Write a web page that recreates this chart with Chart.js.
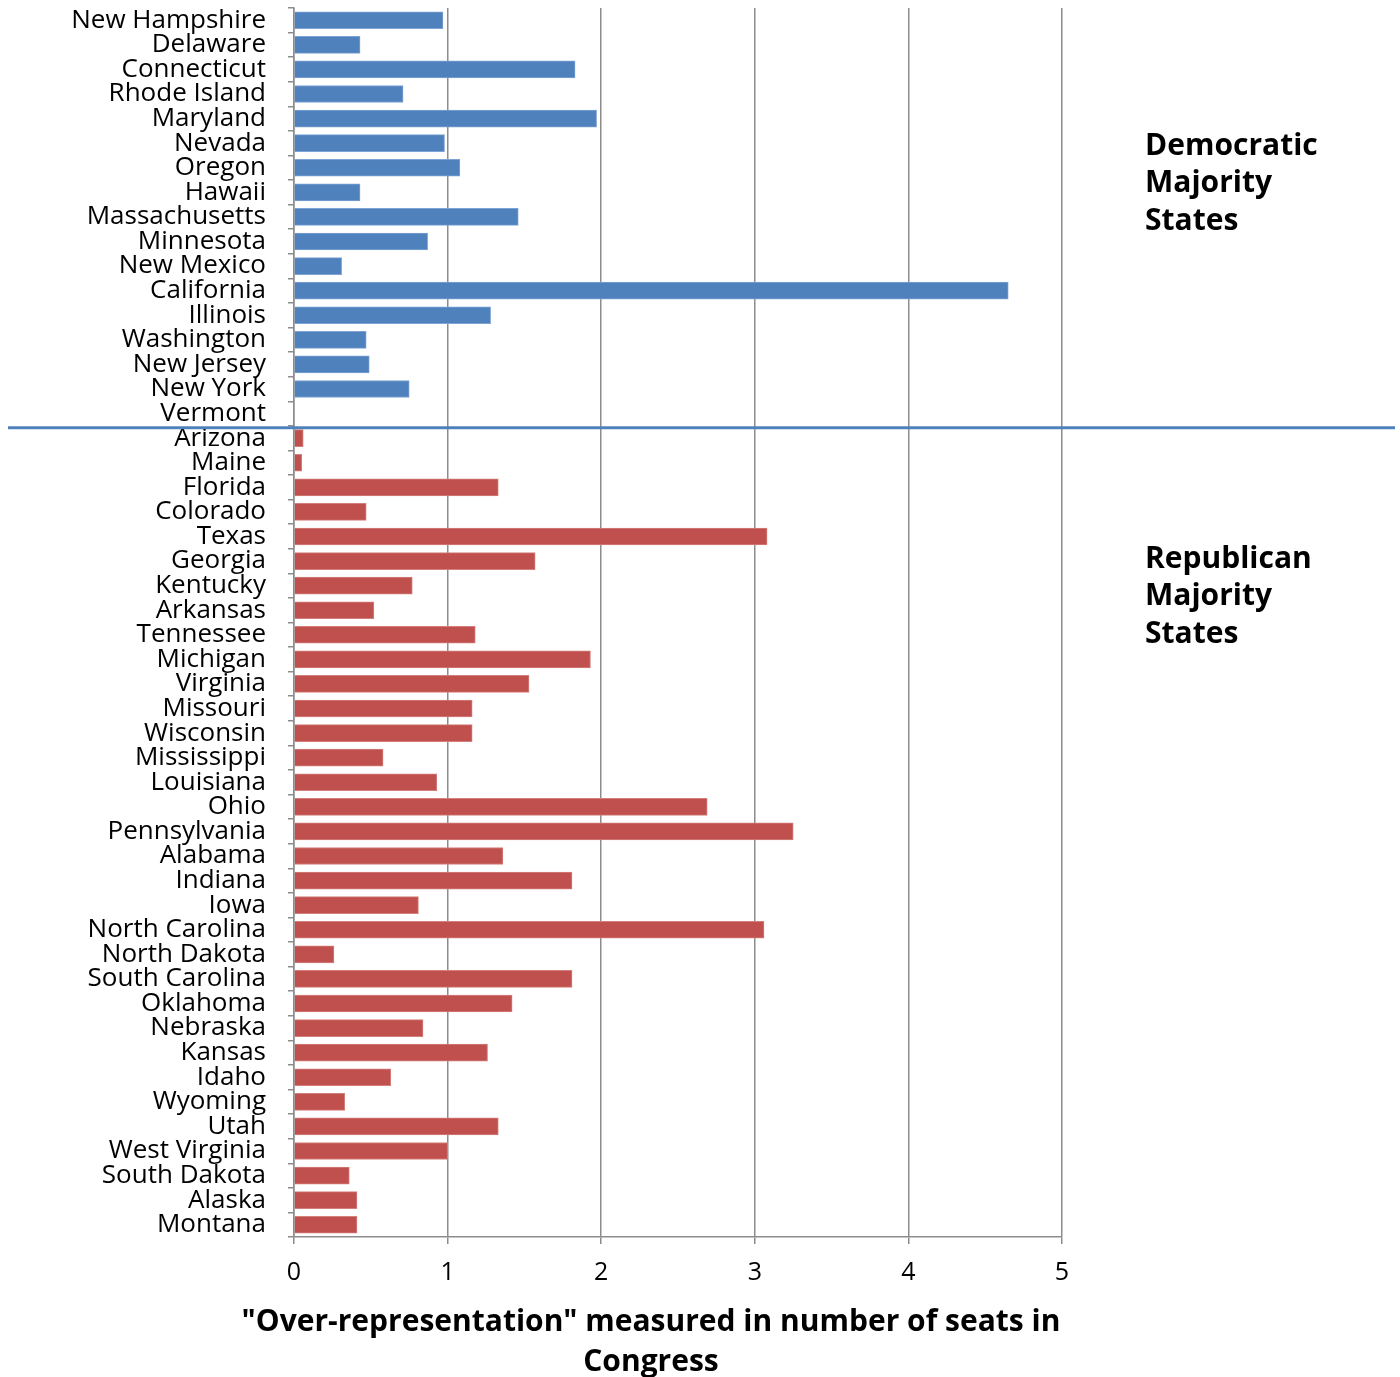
<!DOCTYPE html>
<html>
<head>
<meta charset="utf-8">
<script src="https://cdn.jsdelivr.net/npm/chart.js@4/dist/chart.umd.min.js"></script>
<style>
  html, body { margin: 0; padding: 0; background: #fff; }
  #wrap { width: 1400px; height: 1377px; position: relative; }
</style>
</head>
<body>
<div id="wrap"><canvas id="c" width="1400" height="1377"></canvas></div>
<script>
// States won by each party, top to bottom, with extra House seats per state
const demStates = ['New Hampshire', 'Delaware', 'Connecticut', 'Rhode Island', 'Maryland', 'Nevada',
  'Oregon', 'Hawaii', 'Massachusetts', 'Minnesota', 'New Mexico', 'California', 'Illinois',
  'Washington', 'New Jersey', 'New York', 'Vermont'];
const demValues = [0.97, 0.43, 1.83, 0.71, 1.97, 0.98, 1.08, 0.43, 1.46, 0.87, 0.31, 4.65, 1.28,
  0.47, 0.49, 0.75, 0];

const repStates = ['Arizona', 'Maine', 'Florida', 'Colorado', 'Texas', 'Georgia', 'Kentucky', 'Arkansas',
  'Tennessee', 'Michigan', 'Virginia', 'Missouri', 'Wisconsin', 'Mississippi', 'Louisiana', 'Ohio',
  'Pennsylvania', 'Alabama', 'Indiana', 'Iowa', 'North Carolina', 'North Dakota', 'South Carolina',
  'Oklahoma', 'Nebraska', 'Kansas', 'Idaho', 'Wyoming', 'Utah', 'West Virginia', 'South Dakota',
  'Alaska', 'Montana'];
const repValues = [0.06, 0.05, 1.33, 0.47, 3.08, 1.57, 0.77, 0.52, 1.18, 1.93, 1.53, 1.16, 1.16, 0.58,
  0.93, 2.69, 3.25, 1.36, 1.81, 0.81, 3.06, 0.26, 1.81, 1.42, 0.84, 1.26, 0.63, 0.33, 1.33, 1.0,
  0.36, 0.41, 0.41];

const xTicks = [0, 1, 2, 3, 4, 5];
const groupLabels = [['Democratic', 'Majority', 'States'], ['Republican', 'Majority', 'States']];
const axisTitle = ['"Over-representation" measured in number of seats in', 'Congress'];

const labels = demStates.concat(repStates);
const demData = demValues.concat(repStates.map(() => null));
const repData = demStates.map(() => null).concat(repValues);

const BLUE = '#4F81BD';
const RED = '#C0504D';
const GRID = '#8c8c8c';
const FONT = '"Open Sans", "Noto Sans", sans-serif';

// Divider between the two groups, group captions and the axis title
const overlay = {
  id: 'overlay',
  afterDraw(chart) {
    const ctx = chart.ctx;
    const y = chart.scales.y;
    const split = (y.getPixelForValue(demStates.length - 1) + y.getPixelForValue(demStates.length)) / 2 + 2;
    ctx.save();
    ctx.strokeStyle = BLUE;
    ctx.lineWidth = 3;
    ctx.beginPath();
    ctx.moveTo(8, split);
    ctx.lineTo(1395, split);
    ctx.stroke();

    ctx.fillStyle = '#000';
    ctx.font = 'bold 30px ' + FONT;
    ctx.textAlign = 'left';
    ctx.textBaseline = 'middle';
    const starts = [146, 559];
    groupLabels.forEach((lines, g) => {
      lines.forEach((t, i) => ctx.fillText(t, 1145, starts[g] + i * 37.5));
    });

    ctx.textAlign = 'center';
    axisTitle.forEach((t, i) => ctx.fillText(t, 651, 1322 + i * 40));
    ctx.restore();
  }
};

new Chart(document.getElementById('c'), {
  type: 'bar',
  data: {
    labels: labels,
    datasets: [
      { label: 'Democratic', data: demData, backgroundColor: BLUE, borderColor: '#7da3d4', borderWidth: 1, borderSkipped: 'left' },
      { label: 'Republican', data: repData, backgroundColor: RED, borderColor: '#d47f7c', borderWidth: 1, borderSkipped: 'left' }
    ]
  },
  options: {
    indexAxis: 'y',
    responsive: false,
    animation: false,
    events: [],
    grouped: false,
    barThickness: 17,
    layout: { padding: { left: 0, right: 338, top: 8, bottom: 0 } },
    plugins: { legend: { display: false }, tooltip: { enabled: false } },
    scales: {
      x: {
        min: 0, max: 5,
        afterBuildTicks(scale) { scale.ticks = xTicks.map(v => ({ value: v })); },
        afterFit(scale) { scale.height = 140; scale.paddingLeft = 0; scale.paddingRight = 0; },
        grid: { color: GRID, lineWidth: 1.5, tickLength: 7, drawTicks: true },
        border: { color: GRID, width: 1.5 },
        ticks: { color: '#000', font: { family: FONT, size: 25 }, padding: 14 }
      },
      y: {
        afterFit(scale) { scale.width = 294; scale.paddingTop = 0; scale.paddingBottom = 0; },
        grid: { offset: true, drawOnChartArea: false, color: GRID, lineWidth: 1.5, tickLength: 6 },
        border: { color: GRID, width: 1.5 },
        ticks: { color: '#000', font: { family: FONT, size: 26 }, padding: 22, autoSkip: false }
      }
    }
  },
  plugins: [overlay]
});
</script>
</body>
</html>
